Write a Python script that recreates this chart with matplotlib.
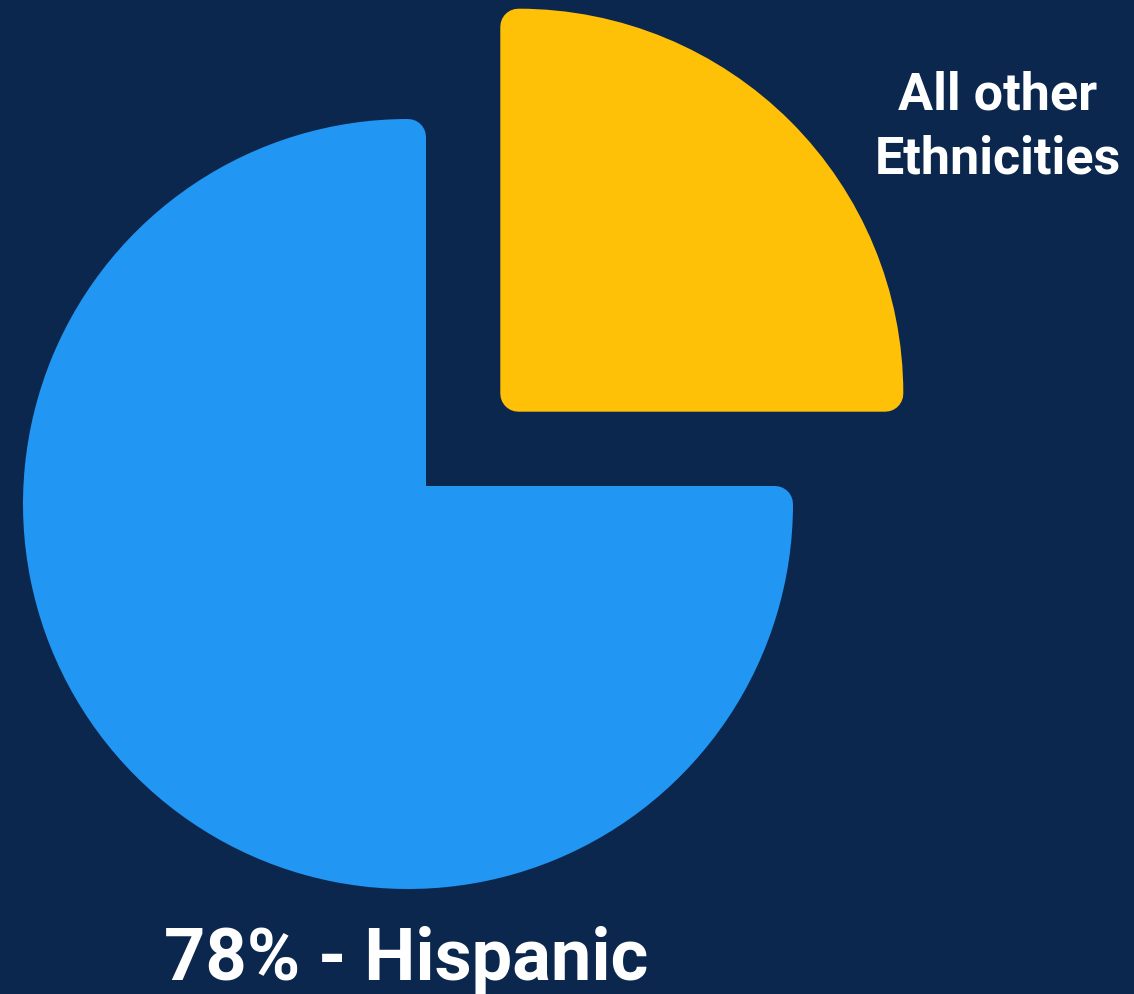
import matplotlib
matplotlib.use("Agg")
import matplotlib.pyplot as plt

# chart data
labels = ["All other\nEthnicities", "78% - Hispanic"]
wedge_share = [25, 75]          # slice sizes as drawn in the graphic
slice_colors = ["#FFC107", "#2196F3"]
explode = [156, 0]              # pie() takes this in data units (px here)

BG = "#0B274D"
W, H = 1134, 994
DPI = 100
PX = 72.0 / DPI                 # points per pixel

fig = plt.figure(figsize=(W / DPI, H / DPI), dpi=DPI, facecolor=BG)
ax = fig.add_axes([0, 0, 1, 1])
ax.set_facecolor(BG)

corner = 18                     # rounded corner size in px
wedges, _ = ax.pie(
    wedge_share,
    colors=slice_colors,
    startangle=90,
    counterclock=False,
    explode=explode,
    radius=367,
    center=(408, H - 504),
    wedgeprops=dict(linewidth=2 * corner * PX, joinstyle="round"),
)
# same-colour stroke gives the soft rounded corners
for w in wedges:
    w.set_edgecolor(w.get_facecolor())

ax.set_xlim(0, W)
ax.set_ylim(0, H)
ax.set_aspect("equal")
ax.axis("off")

font = ["Roboto", "DejaVu Sans"]
top1, top2 = labels[0].split("\n")
ax.text(998, H - 110, top1, color="white", fontsize=37.5,
        fontweight="bold", family=font, ha="center", va="baseline")
ax.text(998, H - 174, top2, color="white", fontsize=37.5,
        fontweight="bold", family=font, ha="center", va="baseline")
ax.text(406, H - 980, labels[1], color="white", fontsize=52,
        fontweight="bold", family=font, ha="center", va="baseline")

fig.savefig("out.png", dpi=DPI, facecolor=BG)
